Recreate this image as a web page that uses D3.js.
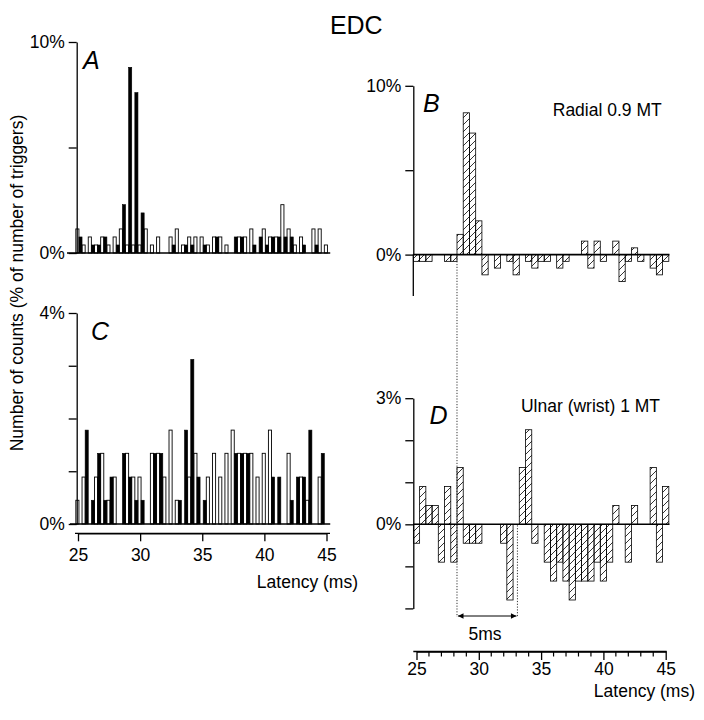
<!DOCTYPE html>
<html><head><meta charset="utf-8">
<script src="https://cdn.jsdelivr.net/npm/d3@7"></script>
<style>
html,body{margin:0;padding:0;background:#fff;}
svg{display:block;}
text{font-family:"Liberation Sans", Arial, Helvetica, sans-serif;fill:#000;}
</style></head><body>
<svg id="chart" width="704" height="720"></svg>
<script>
// ---- data ----
const binCenters = [25,25.5,26,26.5,27,27.5,28,28.5,29,29.5,30,30.5,31,31.5,32,32.5,33,33.5,34,34.5,35,35.5,36,36.5,37,37.5,38,38.5,39,39.5,40,40.5,41,41.5,42,42.5,43,43.5,44,44.5,45];
// Panel A (% of triggers), open and filled histograms
const openA   = [1.14,0.38,0.76,0.38,0.76,0.38,0.76,1.14,0.38,0.38,0.38,1.14,0.38,0.76,0,0.76,1.14,0.38,0.76,0.76,0.76,0.38,0.76,0.76,0.38,0,0.76,0.76,1.14,0,1.14,0.76,0.76,2.29,1.14,0.38,0.76,0,1.14,1.14,0.38];
const filledA = [0.76,0,0.38,0.38,0.76,0,0.38,2.29,8.8,7.6,1.9,0,0,0,0,0.38,0,0.38,0.38,0,0.38,0,0.76,0,0,0.76,0.76,0,0.38,0.76,0.38,0.76,0.76,0.76,0.76,0,0.38,0,0.38,0,0];
// Panel C
const openC   = [0.45,0.89,0,0.89,1.34,0.45,0.89,0,1.34,0.89,0.89,0,1.34,1.34,0.89,1.78,0.45,0,0.89,1.34,0,0.89,1.34,0.89,1.34,1.78,1.34,1.34,1.34,0.89,1.34,1.78,0,0,1.34,0,0.89,0.45,0,0.89,0];
const filledC = [0,1.78,0.45,1.34,0.45,0.89,0,1.34,0.89,0.45,0.45,0,1.34,1.34,0,0,0.45,1.78,3.12,0.89,0.45,0,0,0,0,1.34,1.34,1.34,0,0,0,0.89,0.89,0,0.45,0.89,0.89,1.78,0,1.34,0];
// Panel B (Radial 0.9 MT), difference histogram
const radialB = [-0.4,-0.4,-0.4,0,0,-0.4,-0.4,1.2,8.4,7.2,2.0,-1.2,0,-0.8,0,-0.4,-1.2,0,-0.4,-0.8,-0.4,-0.4,0,-0.8,-0.4,0,0,0.8,-0.8,0.8,-0.4,0,0.8,-1.6,-0.4,0.4,-0.4,0,-0.8,-1.2,-0.4];
// Panel D (Ulnar (wrist) 1 MT)
const ulnarD = [-0.45,0.9,0.45,0.45,-0.9,0.9,-0.9,1.35,-0.45,-0.45,-0.45,0,0,0,-0.45,-1.8,0,1.35,2.25,-0.45,0,-0.9,-1.35,-0.9,-1.35,-1.8,-1.35,-1.35,-1.35,-0.9,-1.35,-0.9,0.45,0,-0.9,0.45,0,0,1.35,-0.9,0.9];
const latencyTicks = [25,30,35,40,45];
const latencyMinor = [25,26,27,28,29,30,31,32,33,34,35,36,37,38,39,40,41,42,43,44,45];
const scaleBar = [28.25, 33.1]; // "5ms" marker (ms)

// ---- setup ----
const svg = d3.select("#chart");
const FS = 17.5;
const defs = svg.append("defs");
defs.append("pattern").attr("id","hatch").attr("patternUnits","userSpaceOnUse")
  .attr("width",7).attr("height",7)
  .append("path").attr("d","M-1,1 l2,-2 M0,7 l7,-7 M6,8 l2,-2")
  .attr("stroke","#000").attr("stroke-width",0.8);
const mk = defs.append("marker").attr("id","ah").attr("viewBox","0 0 10 10")
  .attr("refX",10).attr("refY",5).attr("markerWidth",8).attr("markerHeight",5.5)
  .attr("markerUnits","userSpaceOnUse").attr("orient","auto-start-reverse");
mk.append("path").attr("d","M0,0 L10,5 L0,10 Z").attr("fill","#000");

const xL = d3.scaleLinear().domain([25,45]).range([78,326.5]);
const xR = d3.scaleLinear().domain([25,45]).range([416.5,665.7]);
const yA = d3.scaleLinear().domain([0,10]).range([253,42]);
const yC = d3.scaleLinear().domain([0,4]).range([524,313]);
const yB = d3.scaleLinear().domain([0,10]).range([254.6,85.8]);
const yD = d3.scaleLinear().domain([-2,3]).range([608.4,398.2]);

function styleAxis(g){
  g.selectAll("path.domain").attr("stroke","#000").attr("stroke-width",1.3);
  g.selectAll(".tick line").attr("stroke","#000").attr("stroke-width",1.3);
  g.selectAll(".tick text").style("font-size",FS+"px").style("font-family",'"Liberation Sans", Arial, sans-serif').attr("fill","#000");
}
function yAxis(scale, x, ticks, labels){
  const g = svg.append("g").attr("transform",`translate(${x},0)`)
    .call(d3.axisLeft(scale).tickValues(ticks).tickSize(8).tickSizeOuter(0).tickPadding(4)
      .tickFormat(d => labels[d] || ""));
  styleAxis(g);
  return g;
}

// ---- left histograms (A, C) ----
function pairedHist(openVals, filledVals, y){
  const g = svg.append("g");
  const data = binCenters.map((c,i)=>({c, o:openVals[i], f:filledVals[i]}));
  g.selectAll("rect.o").data(data.filter(d=>d.o>0)).join("rect").attr("class","o")
    .attr("x",d=>xL(d.c-0.175)).attr("width",d=>xL(d.c+0.075)-xL(d.c-0.175))
    .attr("y",d=>y(d.o)).attr("height",d=>y(0)-y(d.o))
    .attr("fill","#fff").attr("stroke","#000").attr("stroke-width",0.9);
  g.selectAll("rect.f").data(data.filter(d=>d.f>0)).join("rect").attr("class","f")
    .attr("x",d=>xL(d.c+0.075)).attr("width",d=>xL(d.c+0.325)-xL(d.c+0.075))
    .attr("y",d=>y(d.f)).attr("height",d=>y(0)-y(d.f))
    .attr("fill","#000").attr("stroke","#000").attr("stroke-width",0.6);
}
pairedHist(openA, filledA, yA);
pairedHist(openC, filledC, yC);
// baselines
svg.append("line").attr("x1",67).attr("x2",xL(45.3)).attr("y1",yA(0)).attr("y2",yA(0)).attr("stroke","#000").attr("stroke-width",1.6);
svg.append("line").attr("x1",70).attr("x2",xL(45.3)).attr("y1",yC(0)).attr("y2",yC(0)).attr("stroke","#000").attr("stroke-width",1.6);
yAxis(yA, 76.7, [0,5,10], {0:"0%",10:"10%"});
yAxis(yC, 76.7, [0,1,2,3,4], {0:"0%",4:"4%"});

// C x-axis
const gxC = svg.append("g").attr("transform","translate(0,533.3)")
  .call(d3.axisBottom(xL).tickValues(latencyTicks).tickSize(8).tickSizeOuter(0).tickPadding(7.5).tickFormat(d3.format("d")));
styleAxis(gxC);
svg.append("line").attr("x1",75).attr("x2",330).attr("y1",533.3).attr("y2",533.3).attr("stroke","#000").attr("stroke-width",1.3);
svg.append("text").attr("x",358).attr("y",588).attr("text-anchor","end").style("font-size",FS+"px").text("Latency (ms)");

// ---- right histograms (B, D) ----
function diffHist(vals, y){
  const g = svg.append("g");
  const data = binCenters.map((c,i)=>({c, v:vals[i]})).filter(d=>d.v!==0);
  g.selectAll("rect").data(data).join("rect")
    .attr("x",d=>xR(d.c-0.25)).attr("width",d=>xR(d.c+0.25)-xR(d.c-0.25))
    .attr("y",d=>y(Math.max(0,d.v))).attr("height",d=>Math.abs(y(d.v)-y(0)))
    .attr("fill","url(#hatch)").attr("stroke","#000").attr("stroke-width",0.8);
}
diffHist(radialB, yB);
diffHist(ulnarD, yD);
svg.append("line").attr("x1",413.3).attr("x2",xR(45.3)).attr("y1",yB(0)).attr("y2",yB(0)).attr("stroke","#000").attr("stroke-width",1.6);
svg.append("line").attr("x1",413.3).attr("x2",xR(45.3)).attr("y1",yD(0)).attr("y2",yD(0)).attr("stroke","#000").attr("stroke-width",1.6);
yAxis(yB, 413.3, [0,5,10], {0:"0%",10:"10%"});
svg.append("line").attr("x1",413.3).attr("x2",413.3).attr("y1",yB(0)).attr("y2",yB(-2.45)).attr("stroke","#000").attr("stroke-width",1.3);
yAxis(yD, 413.3, [-2,-1,0,1,2,3], {0:"0%",3:"3%"});

// dotted guide lines and 5ms marker
svg.append("line").attr("x1",xR(scaleBar[0])).attr("x2",xR(scaleBar[0])).attr("y1",yB(0)+1).attr("y2",617)
  .attr("stroke","#000").attr("stroke-width",0.8).attr("stroke-dasharray","1.2,1.6");
svg.append("line").attr("x1",xR(scaleBar[1])).attr("x2",xR(scaleBar[1])).attr("y1",yD(0)+1).attr("y2",617)
  .attr("stroke","#000").attr("stroke-width",0.8).attr("stroke-dasharray","1.2,1.6");
svg.append("line").attr("x1",xR(scaleBar[0])+1).attr("x2",xR(scaleBar[1])-1).attr("y1",616).attr("y2",616)
  .attr("stroke","#000").attr("stroke-width",1).attr("marker-start","url(#ah)").attr("marker-end","url(#ah)");
svg.append("text").attr("x",485).attr("y",640).attr("text-anchor","middle").style("font-size",FS+"px").text("5ms");

// D x-axis
const gxD = svg.append("g").attr("transform","translate(0,651.5)")
  .call(d3.axisBottom(xR).tickValues(latencyTicks).tickSize(8.5).tickSizeOuter(0).tickPadding(2.5).tickFormat(d3.format("d")));
styleAxis(gxD);
svg.append("g").selectAll("line").data(latencyMinor.filter(d=>!latencyTicks.includes(d))).join("line")
  .attr("x1",d=>xR(d)).attr("x2",d=>xR(d)).attr("y1",651.5).attr("y2",656.5).attr("stroke","#000").attr("stroke-width",1.2);
svg.append("line").attr("x1",413.3).attr("x2",666.7).attr("y1",651.5).attr("y2",651.5).attr("stroke","#000").attr("stroke-width",1.4);
svg.append("text").attr("x",695).attr("y",697).attr("text-anchor","end").style("font-size",FS+"px").text("Latency (ms)");

// ---- texts ----
svg.append("text").attr("x",356.3).attr("y",34.4).attr("text-anchor","middle").style("font-size","25px").text("EDC");
const letters = [["A",83,68.8],["B",423,112.4],["C",91,339.5],["D",429.5,424.3]];
svg.selectAll("text.pl").data(letters).join("text").attr("class","pl")
  .attr("x",d=>d[1]).attr("y",d=>d[2]).style("font-size","25px").style("font-style","italic").text(d=>d[0]);
svg.append("text").attr("x",661.7).attr("y",115.6).attr("text-anchor","end").style("font-size",FS+"px").text("Radial 0.9 MT");
svg.append("text").attr("x",660).attr("y",412).attr("text-anchor","end").style("font-size",FS+"px").text("Ulnar (wrist) 1 MT");
svg.append("text").attr("transform","translate(16.7,283) rotate(-90)").attr("text-anchor","middle").attr("dy","0.35em")
  .style("font-size",FS+"px").text("Number of counts (% of number of triggers)");
</script>
</body></html>
